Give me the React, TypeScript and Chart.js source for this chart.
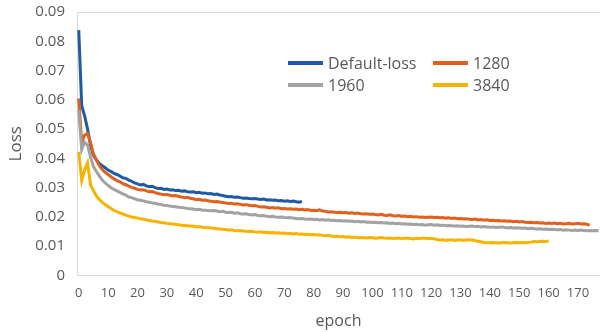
import React, { useEffect, useRef } from 'react';
import { Chart, registerables } from 'chart.js';

Chart.register(...registerables);

const seriesNames = ['Default-loss', '1280', '1960', '3840'];
const seriesColors = ['#1D5BA8', '#E1601C', '#A2A2A2', '#F7B300'];

const defaultLoss = [
  0.0838, 0.058, 0.0545, 0.05, 0.0445, 0.041, 0.0395, 0.0383, 0.0375, 0.0368,
  0.036, 0.0355, 0.0349, 0.0345, 0.034, 0.0334, 0.0332, 0.0326, 0.0322, 0.0316,
  0.0313, 0.0309, 0.0311, 0.0306, 0.0303, 0.0305, 0.03, 0.0297, 0.0298, 0.0294,
  0.0295, 0.0292, 0.0293, 0.029, 0.0291, 0.0288, 0.0289, 0.0286, 0.0285, 0.0286,
  0.0283, 0.0284, 0.0281, 0.0282, 0.0279, 0.028, 0.0277, 0.0278, 0.0275, 0.0273,
  0.0271, 0.0269, 0.027, 0.0267, 0.0268, 0.0266, 0.0264, 0.0265, 0.0263, 0.0262,
  0.0263, 0.0261, 0.026, 0.0261, 0.0258, 0.0259, 0.0257, 0.0258, 0.0255, 0.0256,
  0.0254, 0.0255, 0.0253, 0.0254, 0.0252, 0.025, 0.0253,
];

const loss1280 = [
  0.0605, 0.0455, 0.048, 0.0485, 0.0455, 0.0415, 0.0395, 0.0375, 0.0362, 0.0352,
  0.0345, 0.0337, 0.033, 0.0324, 0.032, 0.0314, 0.031, 0.0305, 0.0301, 0.0298,
  0.0294, 0.0292, 0.0293, 0.0289, 0.0286, 0.0287, 0.0283, 0.028, 0.0278, 0.0276,
  0.0277, 0.0274, 0.0272, 0.0273, 0.027, 0.0268, 0.0266, 0.0267, 0.0264, 0.0262,
  0.0259, 0.026, 0.0257, 0.0258, 0.0255, 0.0254, 0.0252, 0.0253, 0.0251, 0.0249,
  0.0248, 0.0246, 0.0247, 0.0244, 0.0245, 0.0243, 0.0241, 0.0242, 0.024, 0.0238,
  0.0239, 0.0236, 0.0234, 0.0235, 0.0233, 0.0231, 0.0232, 0.023, 0.0231, 0.0228,
  0.0229, 0.0227, 0.0228, 0.0226, 0.0227, 0.0225, 0.0226, 0.0224, 0.0225, 0.0222,
  0.0223, 0.0221, 0.0224, 0.022, 0.0219, 0.0217, 0.0218, 0.0216, 0.0215, 0.0216,
  0.0214, 0.0215, 0.0213, 0.0214, 0.0212, 0.0213, 0.0211, 0.021, 0.0211, 0.0209,
  0.021, 0.0208, 0.0207, 0.0209, 0.0206, 0.0205, 0.0207, 0.0204, 0.0203, 0.0205,
  0.0202, 0.0203, 0.0201, 0.0202, 0.02, 0.0201, 0.0199, 0.02, 0.0198, 0.0199,
  0.02, 0.0198, 0.0199, 0.0197, 0.0198, 0.0196, 0.0197, 0.0195, 0.0196, 0.0194,
  0.0195, 0.0193, 0.0194, 0.0192, 0.0191, 0.0193, 0.019, 0.0191, 0.0189, 0.019,
  0.0188, 0.0189, 0.0187, 0.0188, 0.0186, 0.0187, 0.0185, 0.0186, 0.0184, 0.0185,
  0.0183, 0.0184, 0.0182, 0.0181, 0.0182, 0.018, 0.0181, 0.0179, 0.018, 0.0178,
  0.0179, 0.0178, 0.0179, 0.0177, 0.0178, 0.0176, 0.0177, 0.0178, 0.0176, 0.0177,
  0.0178, 0.0176, 0.0177, 0.0175, 0.0172,
];

const loss1960 = [
  0.0565, 0.043, 0.0455, 0.0445, 0.0405, 0.0372, 0.0355, 0.034, 0.0326, 0.0316,
  0.0308, 0.03, 0.0294, 0.0289, 0.0284, 0.0279, 0.0275, 0.0268, 0.0266, 0.0262,
  0.0259, 0.0257, 0.0255, 0.0252, 0.025, 0.0248, 0.0246, 0.0244, 0.0242, 0.024,
  0.0239, 0.0237, 0.0236, 0.0235, 0.0233, 0.0232, 0.0231, 0.0229, 0.0228, 0.0227,
  0.0225, 0.0226, 0.0224, 0.0223, 0.0222, 0.0221, 0.0222, 0.022, 0.0218, 0.0219,
  0.0216, 0.0215, 0.0216, 0.0213, 0.0214, 0.0211, 0.021, 0.0211, 0.0208, 0.0207,
  0.0208, 0.0205, 0.0204, 0.0205, 0.0202, 0.0201, 0.0202, 0.02, 0.0199, 0.02,
  0.0198, 0.0197, 0.0198, 0.0196, 0.0195, 0.0194, 0.0195, 0.0193, 0.0192, 0.0193,
  0.0191, 0.0192, 0.019, 0.0191, 0.0189, 0.019, 0.0188, 0.0189, 0.0187, 0.0188,
  0.0186, 0.0187, 0.0185, 0.0186, 0.0184, 0.0185, 0.0183, 0.0184, 0.0182, 0.0183,
  0.0181, 0.0182, 0.018, 0.0181, 0.0179, 0.018, 0.0178, 0.0179, 0.0177, 0.0178,
  0.0176, 0.0177, 0.0175, 0.0176, 0.0174, 0.0175, 0.0173, 0.0174, 0.0172, 0.0173,
  0.0174, 0.0172, 0.0173, 0.0171, 0.0172, 0.017, 0.0171, 0.017, 0.0169, 0.017,
  0.0168, 0.0169, 0.0167, 0.0168, 0.0169, 0.0167, 0.0168, 0.0166, 0.0167, 0.0166,
  0.0165, 0.0166, 0.0164, 0.0165, 0.0166, 0.0164, 0.0163, 0.0164, 0.0162, 0.0163,
  0.0162, 0.0161, 0.0162, 0.016, 0.0161, 0.016, 0.0159, 0.016, 0.0158, 0.0159,
  0.0157, 0.0158, 0.0157, 0.0156, 0.0157, 0.0155, 0.0156, 0.0155, 0.0154, 0.0155,
  0.0154, 0.0155, 0.0154, 0.0153, 0.0154, 0.0153, 0.0154, 0.0153,
];

const loss3840 = [
  0.0422, 0.0325, 0.036, 0.0385, 0.031, 0.029, 0.0272, 0.026, 0.025, 0.0242,
  0.0236, 0.0229, 0.0222, 0.0218, 0.0214, 0.021, 0.0206, 0.0203, 0.02, 0.0198,
  0.0196, 0.0194, 0.0192, 0.019, 0.0188, 0.0186, 0.0185, 0.0183, 0.0181, 0.018,
  0.0178, 0.0177, 0.0176, 0.0175, 0.0173, 0.0172, 0.0171, 0.017, 0.0169, 0.0168,
  0.0166, 0.0167, 0.0165, 0.0164, 0.0163, 0.0162, 0.0161, 0.016, 0.0159, 0.0158,
  0.0157, 0.0155, 0.0156, 0.0154, 0.0153, 0.0154, 0.0152, 0.0151, 0.015, 0.0151,
  0.0149, 0.0148, 0.0149, 0.0147, 0.0148, 0.0146, 0.0147, 0.0145, 0.0146, 0.0144,
  0.0145, 0.0143, 0.0144, 0.0142, 0.0143, 0.0141, 0.0142, 0.014, 0.0141, 0.0139,
  0.014, 0.0138, 0.0139, 0.0137, 0.0136, 0.0137, 0.0135, 0.0133, 0.0134, 0.0132,
  0.0133, 0.0131, 0.0132, 0.013, 0.0131, 0.0129, 0.013, 0.0129, 0.0128, 0.013,
  0.0129, 0.0127, 0.0128, 0.013, 0.0128, 0.0127, 0.0128, 0.0126, 0.0127, 0.0128,
  0.0126, 0.0127, 0.0128, 0.0126, 0.0125, 0.0127, 0.0126, 0.0128, 0.0127, 0.0126,
  0.0127, 0.0125, 0.0123, 0.0121, 0.0122, 0.012, 0.0121, 0.0122, 0.012, 0.0121,
  0.0122, 0.012, 0.0121, 0.0122, 0.0121, 0.0119, 0.0117, 0.0115, 0.0113, 0.0112,
  0.0112, 0.0113, 0.0112, 0.0111, 0.0112, 0.0113, 0.0112, 0.0111, 0.0112, 0.0113,
  0.0112, 0.0113, 0.0112, 0.0113, 0.0114, 0.0116, 0.0115, 0.0116, 0.0117, 0.0116,
  0.0118,
];

const seriesValues = [defaultLoss, loss1280, loss1960, loss3840];

const xTitle = 'epoch';
const yTitle = 'Loss';
const yMin = 0;
const yMax = 0.09;
const yStep = 0.01;
const xMin = -0.6;
const xMax = 177.5;
const xStep = 10;

const FONT = "'Open Sans', 'DejaVu Sans', sans-serif";
const TEXT = '#595959';
const AXIS = '#D9D9D9';

const legendPlugin = {
  id: 'insideLegend',
  afterDraw(chart: any) {
    const { ctx, chartArea } = chart;
    const left = chartArea.left;
    const top = chartArea.top;
    const cols = [211, 356];
    const rows = [51, 73];
    ctx.save();
    ctx.font = `16px ${FONT}`;
    ctx.textBaseline = 'middle';
    ctx.textAlign = 'left';
    chart.data.datasets.forEach((ds: any, i: number) => {
      const cx = left + cols[i % 2];
      const cy = top + rows[Math.floor(i / 2)];
      ctx.strokeStyle = ds.borderColor;
      ctx.lineWidth = 4;
      ctx.lineCap = 'butt';
      ctx.beginPath();
      ctx.moveTo(cx, cy);
      ctx.lineTo(cx + 35, cy);
      ctx.stroke();
      ctx.fillStyle = TEXT;
      ctx.fillText(ds.label, cx + 40, cy + 1);
    });
    ctx.restore();
  },
};

export default function App() {
  const canvasRef = useRef<HTMLCanvasElement | null>(null);

  useEffect(() => {
    document.body.style.margin = '0';
    const canvas = canvasRef.current;
    if (!canvas) return;
    const chart = new Chart(canvas, {
      type: 'line',
      data: {
        datasets: seriesValues.map((vals, i) => ({
          label: seriesNames[i],
          data: vals.map((v, idx) => ({ x: idx, y: v })),
          borderColor: seriesColors[i],
          backgroundColor: seriesColors[i],
          borderWidth: 3,
          pointRadius: 0,
          tension: 0,
          fill: false,
          order: 4 - i,
        })),
      },
      options: {
        responsive: false,
        animation: false,
        maintainAspectRatio: false,
        layout: { padding: { top: 12, right: 0, bottom: 0, left: 0 } },
        plugins: {
          legend: { display: false },
          tooltip: { enabled: false },
        },
        scales: {
          x: {
            type: 'linear',
            min: xMin,
            max: xMax,
            afterFit: (scale: any) => {
              scale.height = 56.5;
            },
            ticks: {
              stepSize: xStep,
              includeBounds: false,
              autoSkip: false,
              maxRotation: 0,
              padding: 10,
              color: TEXT,
              font: { family: FONT, size: 13 },
              callback: (v: any) => String(v),
            },
            grid: { display: false, drawTicks: false },
            border: { display: true, color: AXIS, width: 1 },
            title: {
              display: true,
              text: xTitle,
              color: TEXT,
              font: { family: FONT, size: 16 },
              padding: { top: 0, bottom: 1 },
            },
          },
          y: {
            type: 'linear',
            min: yMin,
            max: yMax,
            afterFit: (scale: any) => {
              scale.width = 77;
              scale.paddingTop = 0;
            },
            ticks: {
              stepSize: yStep,
              padding: 12,
              color: TEXT,
              font: { family: FONT, size: 15 },
              callback: (v: any) => (Math.abs(v) < 1e-9 ? '0' : Number(v).toFixed(2)),
            },
            grid: {
              drawTicks: false,
              color: (ctx: any) =>
                ctx.tick && Math.abs(ctx.tick.value - yMax) < 1e-9 ? AXIS : 'rgba(0,0,0,0)',
            },
            border: { display: true, color: AXIS, width: 1 },
            title: {
              display: true,
              text: yTitle,
              color: TEXT,
              font: { family: FONT, size: 17 },
              padding: { top: 6, bottom: 0 },
            },
          },
        },
      },
      plugins: [legendPlugin],
    });
    return () => chart.destroy();
  }, []);

  return (
    <div style={{ width: 600, height: 332, position: 'relative', background: '#fff' }}>
      <canvas ref={canvasRef} width={600} height={332} style={{ display: 'block' }} />
    </div>
  );
}
